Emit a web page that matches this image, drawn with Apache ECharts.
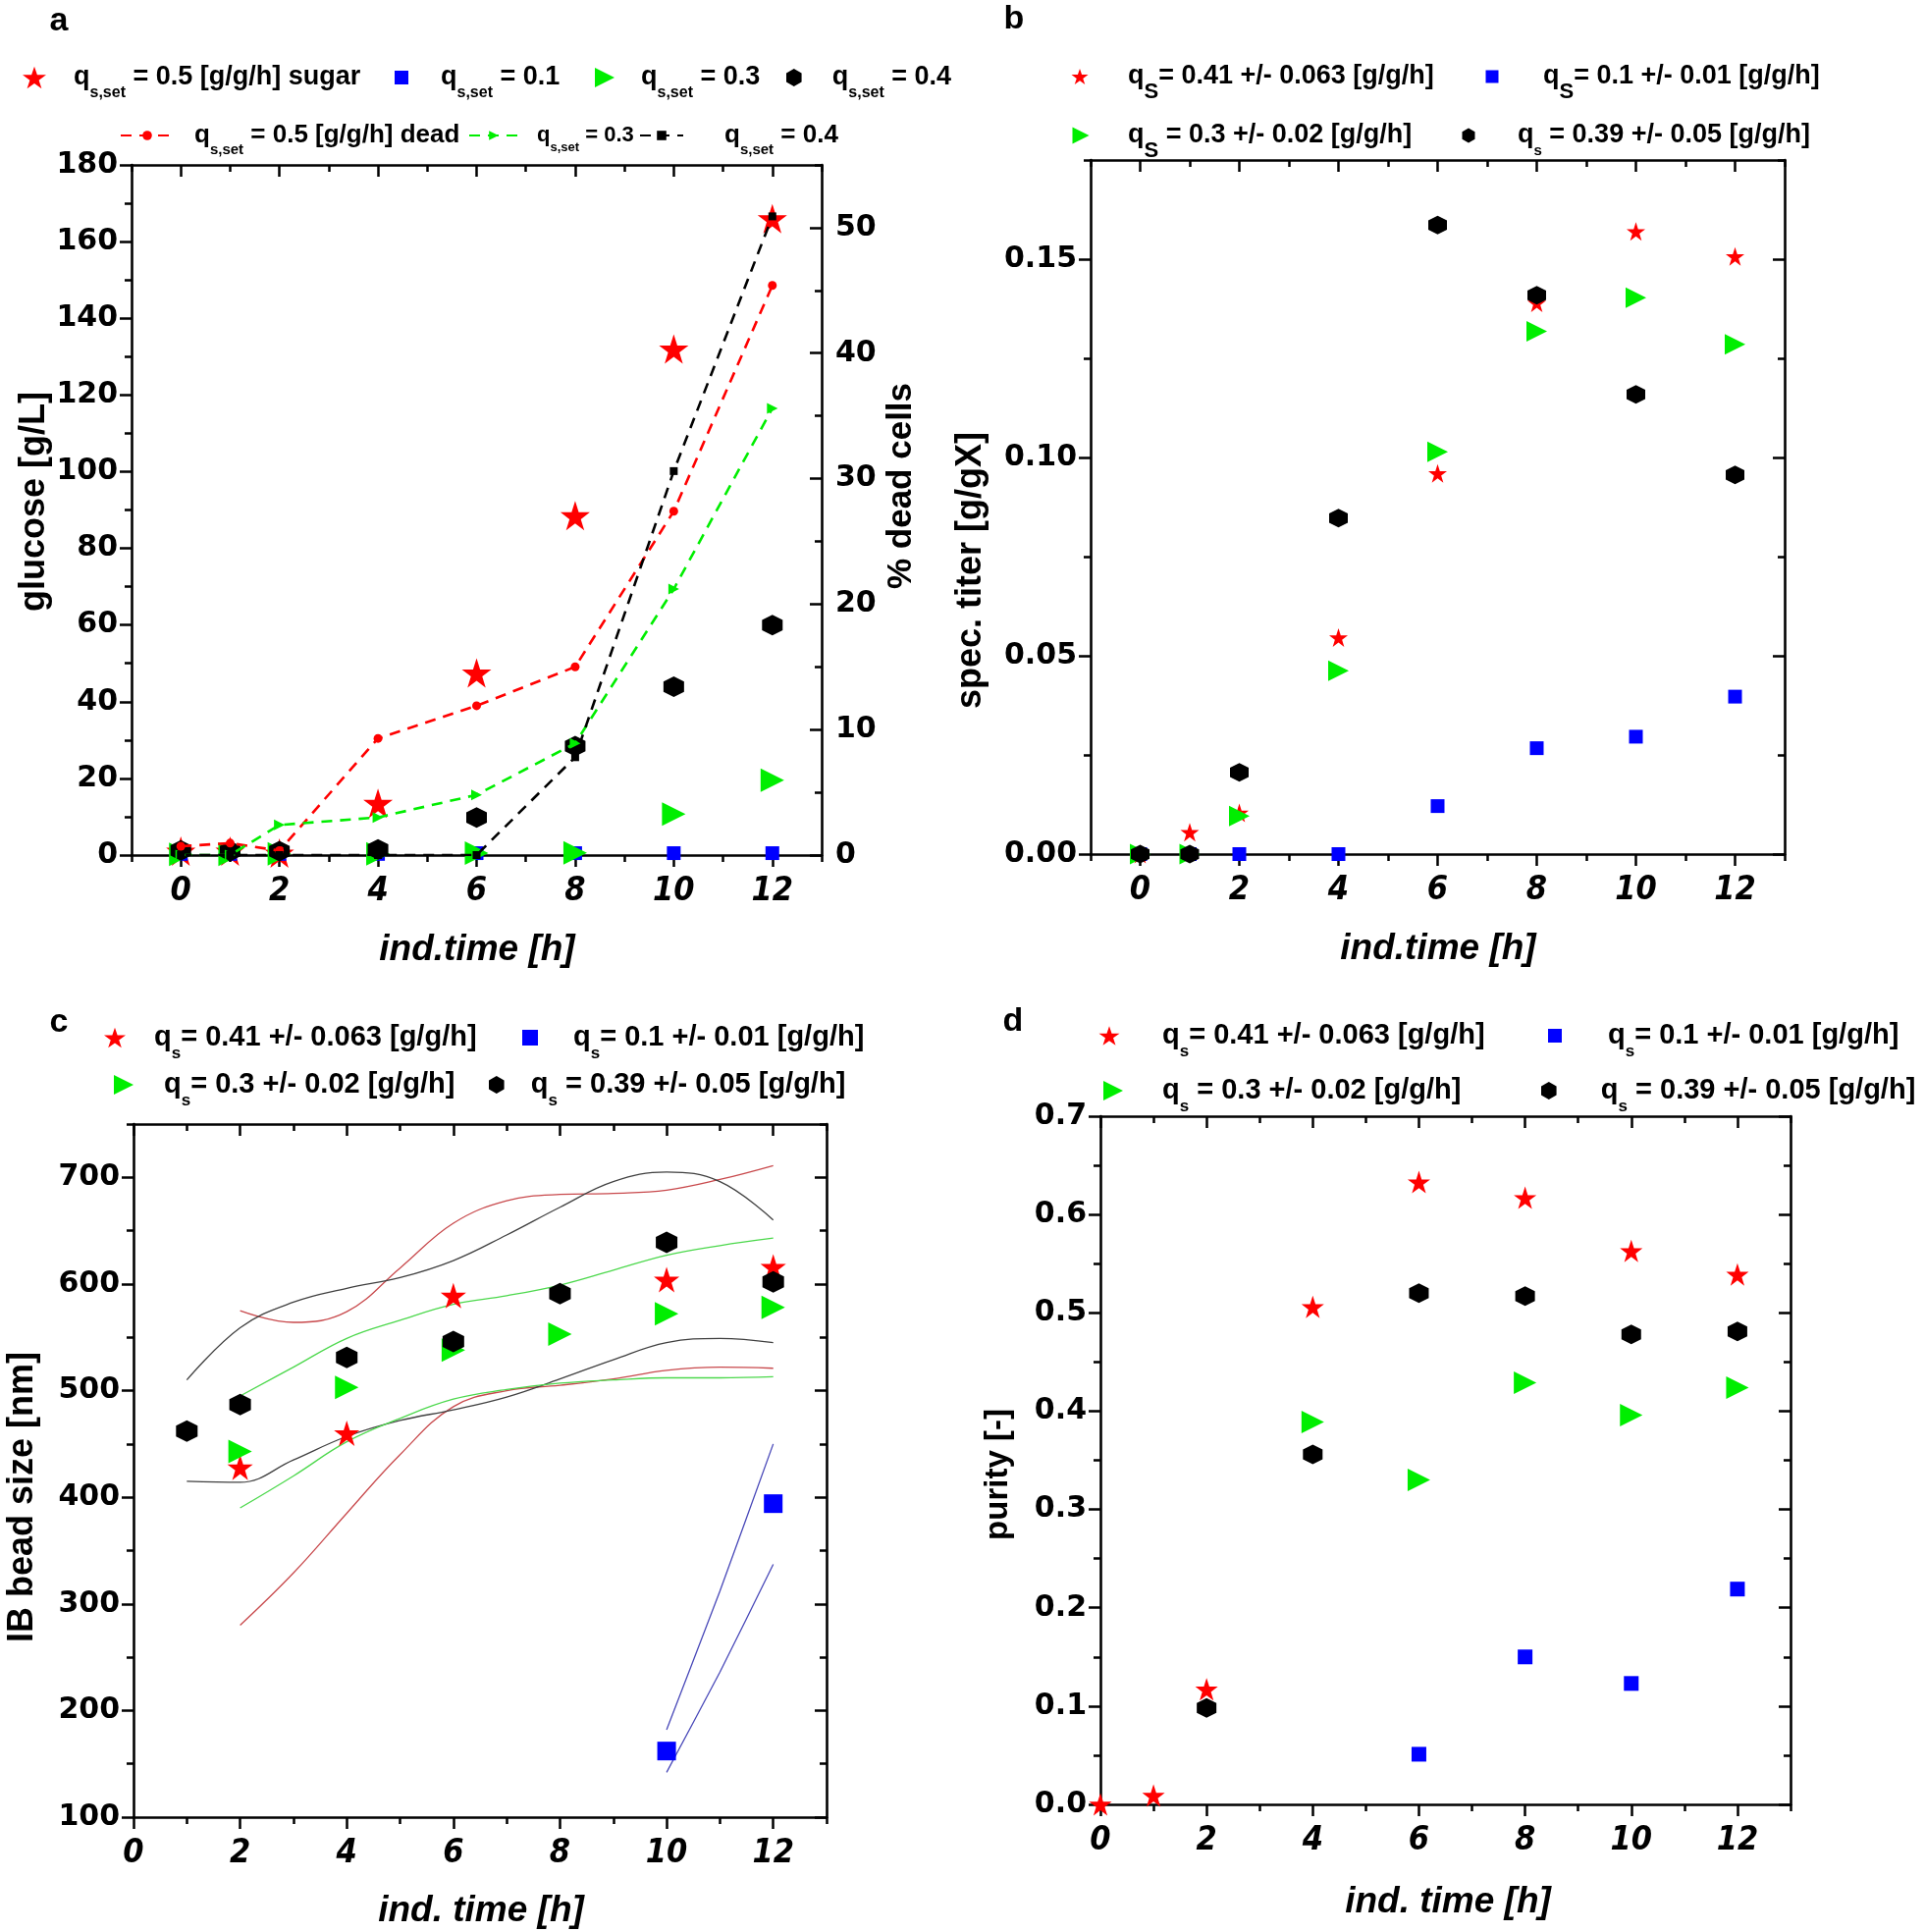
<!DOCTYPE html>
<html>
<head>
<meta charset="utf-8">
<script src="https://cdn.jsdelivr.net/npm/echarts@6/dist/echarts.min.js"></script>
<style>
  html, body { margin: 0; background: #fff; }
  #main { width: 1961px; height: 1968px; }
</style>
</head>
<body>
<div id="main"></div>
<script>
// ---------- data ----------
// panel a : residual glucose [g/L] (left axis) and % dead cells (right axis)
const aTime = [0, 1, 2, 4, 6, 8, 10, 12];
const aSugar05 = [1.0, 1.0, 0.5, 13.5, 47.5, 88.5, 132, 166];
const aSugar01 = [0.3, 0.3, 0.3, 0.3, 0.5, 0.5, 0.5, 0.5];
const aSugar03 = [0.2, 0.2, 0.3, 0.3, 0.5, 0.6, 10.7, 19.5];
const aSugar04 = [1.2, 1.0, 1.0, 1.5, 9.8, 28.4, 43.9, 60];
const aDead05 = [0.7, 0.95, 0.35, 9.3, 11.9, 15.0, 27.4, 45.4];
const aDead03 = [0, 0, 2.4, 3.0, 4.8, 8.9, 21.2, 35.6];
const aDead04 = [0, 0, 0, 0, 0, 7.8, 30.6, 50.9];

// panel b : spec. titer [g/gX]
const bTime = [0, 1, 2, 4, 6, 8, 10, 12];
const bRed = [0, 0.0055, 0.0104, 0.0546, 0.096, 0.139, 0.157, 0.1507];
const bBlue = [0, 0, 0, 0, 0.0121, 0.0267, 0.0296, 0.0397];
const bGreen = [0, 0, 0.0096, 0.0462, 0.1014, 0.1318, 0.1403, 0.1285];
const bBlack = [0, 0, 0.0206, 0.0847, 0.1586, 0.1409, 0.1159, 0.0956];

// panel c : IB bead size [nm] + confidence bands
const cRedTime = [2, 4, 6, 10, 12];
const cRed = [428, 460, 589, 604, 616];
const cBlackTime = [1, 2, 4, 6, 8, 10, 12];
const cBlack = [462, 487, 531, 546, 591, 639, 602];
const cGreenTime = [2, 4, 6, 8, 10, 12];
const cGreen = [443, 503, 538, 553, 572, 578];
const cBlueTime = [10, 12];
const cBlue = [162, 394];

const cBandTime2 = [2, 3, 4, 5, 6, 7, 8, 9, 10, 11, 12];
const cBandTime1 = [1, 2, 3, 4, 5, 6, 7, 8, 9, 10, 11, 12];
const cBandTimeBlue = [10, 11, 12];
const cRedUpper = [575, 564, 574, 615, 657, 678, 684, 685, 688, 698, 711];
const cRedLower = [280, 329, 385, 440, 485, 500, 505, 511, 519, 522, 521];
const cBlackUpper = [510, 559, 583, 596, 606, 622, 646, 672, 696, 705, 696, 660];
const cBlackLower = [415, 414, 435, 457, 472, 482, 494, 511, 529, 545, 549, 545];
const cGreenUpper = [495, 522, 549, 566, 581, 589, 599, 613, 627, 636, 643];
const cGreenLower = [390, 420, 452, 474, 492, 501, 507, 510, 512, 512, 513];
const cBlueUpper = [182, 312, 450];
const cBlueLower = [142, 236, 337];

// panel d : purity [-]
const dRedTime = [0, 1, 2, 4, 6, 8, 10, 12];
const dRed = [0.0, 0.009, 0.117, 0.506, 0.633, 0.617, 0.563, 0.539];
const dBlackTime = [2, 4, 6, 8, 10, 12];
const dBlack = [0.098, 0.356, 0.520, 0.517, 0.478, 0.481];
const dGreenTime = [4, 6, 8, 10, 12];
const dGreen = [0.389, 0.330, 0.429, 0.396, 0.424];
const dBlueTime = [6, 8, 10, 12];
const dBlue = [0.051, 0.150, 0.123, 0.219];

// tick values
const xMajor = [0, 2, 4, 6, 8, 10, 12];
const xMinorAB = [-1, 1, 3, 5, 7, 9, 11, 13];
const xMinorCD = [1, 3, 5, 7, 9, 11, 13];
const aGlucMajor = [0, 20, 40, 60, 80, 100, 120, 140, 160, 180];
const aGlucMinor = [10, 30, 50, 70, 90, 110, 130, 150, 170];
const aDeadMajor = [0, 10, 20, 30, 40, 50];
const aDeadMinor = [5, 15, 25, 35, 45, 55];
const bMajor = [0, 0.05, 0.10, 0.15];
const bMinor = [0.025, 0.075, 0.125, 0.175];
const cMajor = [100, 200, 300, 400, 500, 600, 700];
const cMinor = [150, 250, 350, 450, 550, 650, 750];
const dMajor = [0, 0.1, 0.2, 0.3, 0.4, 0.5, 0.6, 0.7];
const dMinor = [0.05, 0.15, 0.25, 0.35, 0.45, 0.55, 0.65];

// ---------- styling ----------
const NARROW = '"Liberation Sans Narrow", "DejaVu Sans Condensed", "Liberation Sans", sans-serif';
const SANS = '"Liberation Sans", Arial, sans-serif';
const HEAVY = '"DejaVu Sans", sans-serif';
const RED = '#ff0000', BLUE = '#0000ff', GREEN = '#00ee00', BLACK = '#000000';
const STAR = 'path://M50,0L61.8,35.1L98.9,35.1L68.8,56.9L80.2,91.9L50,70.2L19.8,91.9L31.2,56.9L1.1,35.1L38.2,35.1Z';
const HEX = 'path://M50,0L93.3,25L93.3,75L50,100L6.7,75L6.7,25Z';
const TRI = 'path://M0,0L100,50L0,100Z';

const grids = [
  { left: 134, top: 168, width: 703, height: 703 },
  { left: 1111, top: 163, width: 707, height: 707 },
  { left: 136, top: 1145, width: 706, height: 706 },
  { left: 1121, top: 1137, width: 703, height: 701 }
];

const xAxes = [], yAxes = [];
const xLabel = { fontFamily: NARROW, fontStyle: 'italic', fontWeight: 'bold', fontSize: 34, color: '#000', margin: 20 };
function yLabel(fmt) {
  return { fontFamily: HEAVY, fontWeight: 'bold', fontSize: 30, color: '#000', margin: 14, formatter: fmt };
}

function mkAxis(list, o) {
  list.push({
    type: 'value', gridIndex: o.g, min: o.min, max: o.max, position: o.pos,
    splitLine: { show: false },
    axisLine: { show: o.line, onZero: false, lineStyle: { color: '#000', width: 2.6 } },
    axisTick: { show: true, inside: o.inside, length: o.len, customValues: o.ticks,
      lineStyle: { color: '#000', width: 2.5 } },
    axisLabel: o.label ? Object.assign({ customValues: o.ticks }, o.label) : { show: false }
  });
  return list.length - 1;
}

// bottom axis with labels, minor ticks, mirrored top axis (ticks inside)
function addX(g, min, max, minors) {
  const main = mkAxis(xAxes, { g, min, max, pos: 'bottom', line: true, inside: false, len: 12, ticks: xMajor, label: xLabel });
  mkAxis(xAxes, { g, min, max, pos: 'bottom', line: false, inside: false, len: 7, ticks: minors });
  mkAxis(xAxes, { g, min, max, pos: 'top', line: true, inside: true, len: 12, ticks: xMajor });
  mkAxis(xAxes, { g, min, max, pos: 'top', line: false, inside: true, len: 7, ticks: minors });
  return main;
}
function addY(g, min, max, majors, minors, fmt, pos, inside, labelled) {
  const main = mkAxis(yAxes, { g, min, max, pos, line: true, inside, len: 12, ticks: majors, label: labelled ? yLabel(fmt) : null });
  mkAxis(yAxes, { g, min, max, pos, line: false, inside, len: 7, ticks: minors });
  return main;
}

const ax = addX(0, -1, 13, xMinorAB);
const ayL = addY(0, 0, 180, aGlucMajor, aGlucMinor, v => v, 'left', false, true);
const ayR = addY(0, 0, 55, aDeadMajor, aDeadMinor, v => v, 'right', true, true);

const bx = addX(1, -1, 13, xMinorAB);
const by = addY(1, 0, 0.175, bMajor, bMinor, v => v.toFixed(2), 'left', false, true);
addY(1, 0, 0.175, bMajor, bMinor, null, 'right', true, false);

const cx = addX(2, 0, 13, xMinorCD);
const cy = addY(2, 100, 750, cMajor, cMinor, v => v, 'left', false, true);
addY(2, 100, 750, cMajor, cMinor, null, 'right', true, false);

const dx = addX(3, 0, 13, xMinorCD);
const dy = addY(3, 0, 0.7, dMajor, dMinor, v => v.toFixed(1), 'left', false, true);
addY(3, 0, 0.7, dMajor, dMinor, null, 'right', true, false);

const pairs = (t, v) => t.map((x, i) => [x, v[i]]);

function scatter(name, xi, yi, t, v, symbol, size, color) {
  return { name, type: 'scatter', xAxisIndex: xi, yAxisIndex: yi, data: pairs(t, v),
    symbol, symbolSize: size, itemStyle: { color, opacity: 1 }, clip: false };
}
function dashed(name, xi, yi, t, v, symbol, size, color) {
  return { name, type: 'line', xAxisIndex: xi, yAxisIndex: yi, data: pairs(t, v),
    symbol, symbolSize: size, showSymbol: true, itemStyle: { color },
    lineStyle: { color, width: 2.6, type: [11, 8] }, z: 3 };
}
function band(xi, yi, t, v, color, smooth) {
  return { type: 'line', xAxisIndex: xi, yAxisIndex: yi, data: pairs(t, v), smooth,
    showSymbol: false, silent: true, lineStyle: { color, width: 1.3 }, z: 1 };
}

const series = [
  scatter('a1', ax, ayL, aTime, aSugar05, STAR, 30, RED),
  scatter('a2', ax, ayL, aTime, aSugar01, 'rect', 14, BLUE),
  scatter('a3', ax, ayL, aTime, aSugar03, TRI, 24, GREEN),
  scatter('a4', ax, ayL, aTime, aSugar04, HEX, 21, BLACK),
  dashed('a5', ax, ayR, aTime, aDead05, 'circle', 9, RED),
  dashed('a6', ax, ayR, aTime, aDead03, TRI, 11, GREEN),
  dashed('a7', ax, ayR, aTime, aDead04, 'rect', 8, BLACK),

  scatter('b1', bx, by, bTime, bRed, STAR, 19, RED),
  scatter('b2', bx, by, bTime, bBlue, 'rect', 14, BLUE),
  scatter('b3', bx, by, bTime, bGreen, TRI, 21, GREEN),
  scatter('b4', bx, by, bTime, bBlack, HEX, 19, BLACK),

  band(cx, cy, cBandTime2, cRedUpper, '#c8494c', 0.4),
  band(cx, cy, cBandTime2, cRedLower, '#c8494c', 0.4),
  band(cx, cy, cBandTime1, cBlackUpper, '#404040', 0.4),
  band(cx, cy, cBandTime1, cBlackLower, '#404040', 0.4),
  band(cx, cy, cBandTime2, cGreenUpper, '#4cd84c', 0.4),
  band(cx, cy, cBandTime2, cGreenLower, '#4cd84c', 0.4),
  band(cx, cy, cBandTimeBlue, cBlueUpper, '#4848b8', 0.15),
  band(cx, cy, cBandTimeBlue, cBlueLower, '#4848b8', 0.15),
  scatter('c1', cx, cy, cRedTime, cRed, STAR, 26, RED),
  scatter('c2', cx, cy, cBlueTime, cBlue, 'rect', 19, BLUE),
  scatter('c3', cx, cy, cGreenTime, cGreen, TRI, 24, GREEN),
  scatter('c4', cx, cy, cBlackTime, cBlack, HEX, 22, BLACK),

  scatter('d1', dx, dy, dRedTime, dRed, STAR, 23, RED),
  scatter('d2', dx, dy, dBlueTime, dBlue, 'rect', 15, BLUE),
  scatter('d3', dx, dy, dGreenTime, dGreen, TRI, 23, GREEN),
  scatter('d4', dx, dy, dBlackTime, dBlack, HEX, 20, BLACK)
];

// ---------- legends (one component per entry so each sits where the original does) ----------
// series name -> [subscript, text after subscript]
const legendText = {
  a1: ['s,set', ' = 0.5 [g/g/h] sugar'], a2: ['s,set', ' = 0.1'], a3: ['s,set', ' = 0.3'], a4: ['s,set', ' = 0.4'],
  a5: ['s,set', ' = 0.5 [g/g/h] dead'], a6: ['s,set', ' = 0.3'], a7: ['s,set', ' = 0.4'],
  b1: ['S', '= 0.41 +/- 0.063 [g/g/h]'], b2: ['S', '= 0.1 +/- 0.01 [g/g/h]'],
  b3: ['S', ' = 0.3 +/- 0.02 [g/g/h]'], b4: ['s', ' = 0.39 +/- 0.05 [g/g/h]'],
  c1: ['s', '= 0.41 +/- 0.063 [g/g/h]'], c2: ['s', '= 0.1 +/- 0.01 [g/g/h]'],
  c3: ['s', '= 0.3 +/- 0.02 [g/g/h]'], c4: ['s', ' = 0.39 +/- 0.05 [g/g/h]'],
  d1: ['s', '= 0.41 +/- 0.063 [g/g/h]'], d2: ['s', '= 0.1 +/- 0.01 [g/g/h]'],
  d3: ['s', ' = 0.3 +/- 0.02 [g/g/h]'], d4: ['s', ' = 0.39 +/- 0.05 [g/g/h]']
};

function legendItem(name, icon, w, h, cxp, cyp, textX, fs, subFs) {
  const pad = Math.round(fs * 1.15);
  const textH = pad + subFs;
  const o = {
    data: [name], left: cxp - w / 2, top: cyp - Math.max(h, textH) / 2, padding: 0,
    itemWidth: w, itemHeight: h, selectedMode: false,
    formatter: n => '{m|q}{s|' + legendText[n][0] + '}{m|' + legendText[n][1] + '}',
    textStyle: {
      padding: [0, 0, 0, textX - (cxp + w / 2) - 5],
      rich: {
        m: { fontFamily: SANS, fontWeight: 'bold', fontSize: fs, color: '#000', lineHeight: fs + 4, verticalAlign: 'middle' },
        s: { fontFamily: SANS, fontWeight: 'bold', fontSize: subFs, color: '#000', lineHeight: subFs,
          padding: [pad, 0, 0, 0], verticalAlign: 'middle' }
      }
    }
  };
  if (icon) o.icon = icon;
  return o;
}

const legends = [
  legendItem('a1', STAR, 24, 24, 35, 79, 75, 27, 16),
  legendItem('a2', 'rect', 14, 14, 409, 79, 449, 27, 16),
  legendItem('a3', TRI, 20, 20, 616, 79, 653, 27, 16),
  legendItem('a4', HEX, 18, 18, 810, 79, 849, 27, 16),
  legendItem('a5', null, 54, 12, 149, 138, 197, 26, 15),
  legendItem('a6', null, 50, 12, 502, 138, 546, 22, 13),
  legendItem('a7', null, 44, 12, 673, 138, 737, 26, 15),

  legendItem('b1', STAR, 17, 17, 1100, 78, 1149, 27, 22),
  legendItem('b2', 'rect', 13, 13, 1520, 78, 1572, 27, 22),
  legendItem('b3', TRI, 17, 17, 1101, 138, 1149, 27, 22),
  legendItem('b4', HEX, 15, 15, 1497, 138, 1547, 27, 15),

  legendItem('c1', STAR, 22, 22, 117, 1057, 157, 29, 17),
  legendItem('c2', 'rect', 16, 16, 540, 1057, 584, 29, 17),
  legendItem('c3', TRI, 20, 20, 126, 1105, 167, 29, 17),
  legendItem('c4', HEX, 18, 18, 507, 1105, 542, 29, 17),

  legendItem('d1', STAR, 21, 21, 1130, 1055, 1184, 29, 17),
  legendItem('d2', 'rect', 14, 14, 1584, 1055, 1638, 29, 17),
  legendItem('d3', TRI, 20, 20, 1134, 1111, 1184, 29, 17),
  legendItem('d4', HEX, 18, 18, 1579, 1111, 1632, 29, 17)
];

// ---------- axis titles and panel letters ----------
function title(text, x, y, rotated, italic, size) {
  return {
    type: 'text', x, y, rotation: rotated ? Math.PI / 2 : 0, silent: true,
    style: { text, fill: '#000', fontFamily: SANS, fontWeight: 'bold', fontStyle: italic ? 'italic' : 'normal',
      fontSize: size, textAlign: 'center', textVerticalAlign: 'middle', align: 'center', verticalAlign: 'middle' }
  };
}
const graphics = [
  title('a', 60, 22, false, false, 34),
  title('b', 1033, 20, false, false, 34),
  title('c', 60, 1042, false, false, 34),
  title('d', 1032, 1041, false, false, 34),
  title('glucose [g/L]', 35, 511, true, false, 36),
  title('% dead cells', 918, 495, true, false, 35),
  title('ind.time [h]', 486, 968, false, true, 37),
  title('spec. titer [g/gX]', 989, 581, true, false, 36),
  title('ind.time [h]', 1465, 967, false, true, 37),
  title('IB bead size [nm]', 23, 1525, true, false, 36),
  title('ind. time [h]', 490, 1947, false, true, 37),
  title('purity [-]', 1017, 1502, true, false, 33),
  title('ind. time [h]', 1475, 1938, false, true, 37)
];

const chart = echarts.init(document.getElementById('main'));
chart.setOption({
  animation: false,
  backgroundColor: '#fff',
  grid: grids,
  xAxis: xAxes,
  yAxis: yAxes,
  legend: legends,
  graphic: graphics,
  series
});
</script>
</body>
</html>
